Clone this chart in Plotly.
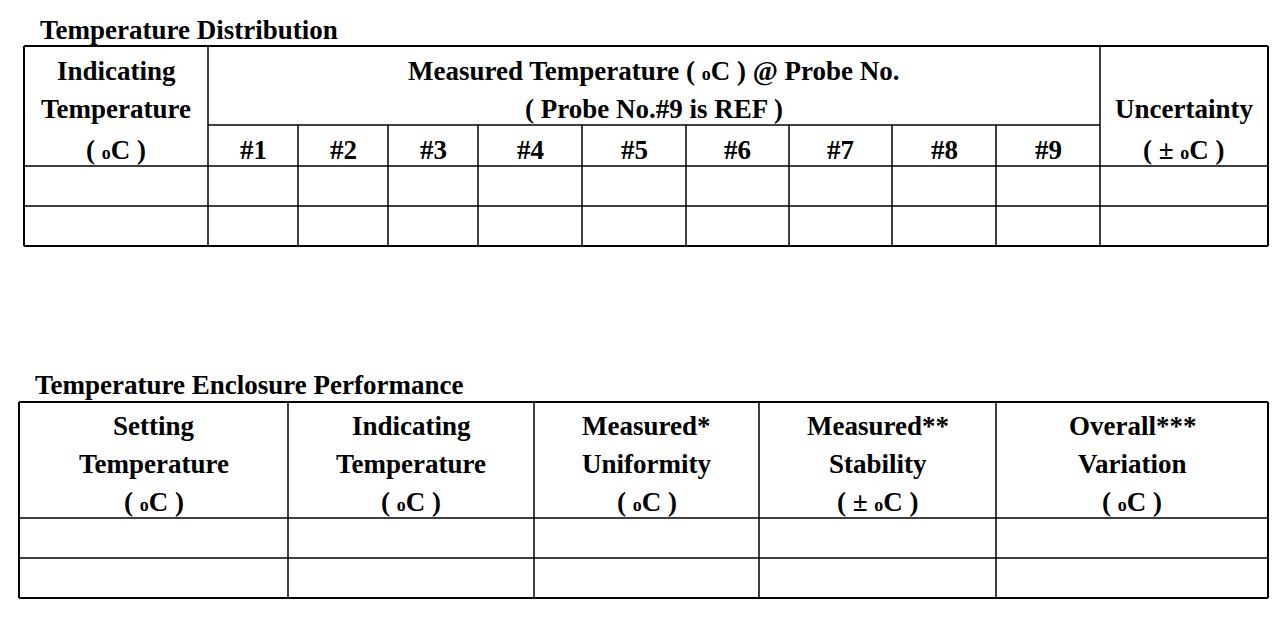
import plotly.graph_objects as go

O = "<span style='font-size:18px'>o</span>"

# table 1 text
t1_title = "Temperature Distribution"
t1_left = ["Indicating", "Temperature", "( " + O + "C )"]
t1_mid = ["Measured Temperature ( " + O + "C ) @ Probe No.", "( Probe No.#9 is REF )"]
probes = ["#1", "#2", "#3", "#4", "#5", "#6", "#7", "#8", "#9"]
t1_right = ["Uncertainty", "( ± " + O + "C )"]

# table 2 text
t2_title = "Temperature Enclosure Performance"
t2_heads = [
    ["Setting", "Temperature", "( " + O + "C )"],
    ["Indicating", "Temperature", "( " + O + "C )"],
    ["Measured*", "Uniformity", "( " + O + "C )"],
    ["Measured**", "Stability", "( ± " + O + "C )"],
    ["Overall***", "Variation", "( " + O + "C )"],
]

# layout geometry (pixels)
t1_cols = [24, 208, 298, 388, 478, 582, 686, 789, 892, 996, 1100, 1268]
t1_rows = [46, 125, 166, 206, 246]
t2_cols = [19, 288, 534, 759, 996, 1268]
t2_rows = [402, 518, 558, 598]
head_y = [71, 109, 150]
head2_y = [426, 464, 502]

FONT = dict(family="Liberation Serif, Times New Roman, serif", size=27, color="black")
shapes, ann = [], []

def line(x0, y0, x1, y1, w=1.5):
    shapes.append(dict(type="line", x0=x0, y0=y0, x1=x1, y1=y1,
                       line=dict(color="black", width=w)))

def text(x, y, s, anchor="center"):
    ann.append(dict(x=x, y=y, text="<b>" + s + "</b>", showarrow=False,
                    xanchor=anchor, yanchor="middle", font=FONT))

# table 1 grid
line(t1_cols[0], t1_rows[0], t1_cols[-1], t1_rows[0], 2)
line(t1_cols[0], t1_rows[-1], t1_cols[-1], t1_rows[-1], 2)
line(t1_cols[1], t1_rows[1], t1_cols[-2], t1_rows[1])
for y in t1_rows[2:-1]:
    line(t1_cols[0], y, t1_cols[-1], y)
for i, x in enumerate(t1_cols):
    top = t1_rows[0] if i in (0, 1, len(t1_cols) - 2, len(t1_cols) - 1) else t1_rows[1]
    line(x, top, x, t1_rows[-1], 2 if i in (0, len(t1_cols) - 1) else 1.5)

text(38, 30, t1_title, "left")
for s, y in zip(t1_left, head_y):
    text((t1_cols[0] + t1_cols[1]) / 2, y, s)
for s, y in zip(t1_mid, head_y):
    text((t1_cols[1] + t1_cols[-2]) / 2, y, s)
for i, p in enumerate(probes):
    text((t1_cols[i + 1] + t1_cols[i + 2]) / 2, head_y[2], p)
for s, y in zip(t1_right, head_y[1:]):
    text((t1_cols[-2] + t1_cols[-1]) / 2, y, s)

# table 2 grid
for y in t2_rows:
    line(t2_cols[0], y, t2_cols[-1], y, 2 if y in (t2_rows[0], t2_rows[-1]) else 1.5)
for x in t2_cols:
    line(x, t2_rows[0], x, t2_rows[-1], 2 if x in (t2_cols[0], t2_cols[-1]) else 1.5)

text(33, 385, t2_title, "left")
for i, head in enumerate(t2_heads):
    for s, y in zip(head, head2_y):
        text((t2_cols[i] + t2_cols[i + 1]) / 2, y, s)

fig = go.Figure()
fig.update_layout(
    width=1287, height=619, margin=dict(l=0, r=0, t=0, b=0),
    plot_bgcolor="white", paper_bgcolor="white",
    # page body adds an 8px offset, so shift the ranges to compensate
    xaxis=dict(range=[8, 1295], visible=False),
    yaxis=dict(range=[627, 8], visible=False),
    shapes=shapes, annotations=ann, showlegend=False,
)
fig.write_html("out.html")
